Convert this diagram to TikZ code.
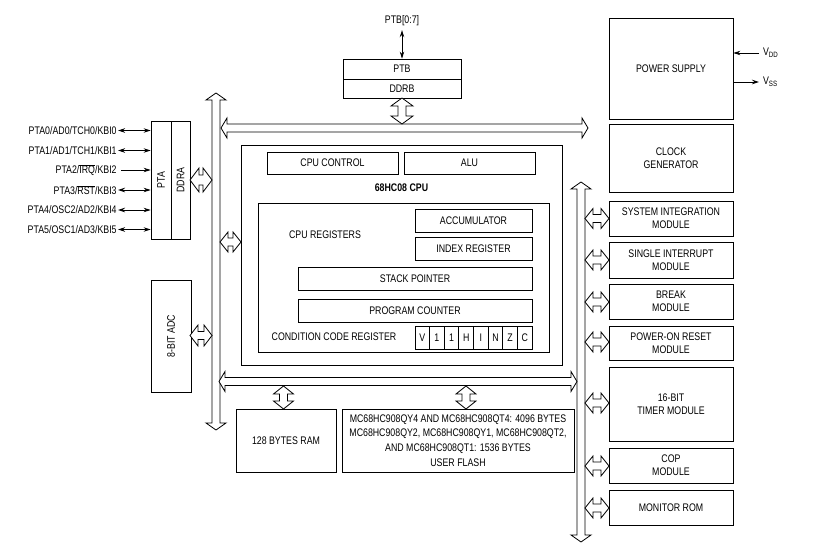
\documentclass[tikz,border=0pt]{standalone}
\usepackage{fontspec}
\setmainfont{Liberation Sans}[FakeStretch=0.8]
\usepackage{graphicx}
\usetikzlibrary{arrows.meta}

% hollow double arrows: horizontal {x left}{x right}{y}{shaft half}{head half}{head length}
\newcommand{\hollowH}[6]{%
  \draw[busline] (#1,#3) -- (#1+#6,#3-#5) -- (#1+#6,#3-#4) -- (#2-#6,#3-#4) -- (#2-#6,#3-#5)
    -- (#2,#3) -- (#2-#6,#3+#5) -- (#2-#6,#3+#4) -- (#1+#6,#3+#4) -- (#1+#6,#3+#5) -- cycle;}
% vertical {x}{y top}{y bottom}{shaft half}{head half}{head length}
\newcommand{\hollowV}[6]{%
  \draw[busline] (#1,#2) -- (#1+#5,#2+#6) -- (#1+#4,#2+#6) -- (#1+#4,#3-#6) -- (#1+#5,#3-#6)
    -- (#1,#3) -- (#1-#5,#3-#6) -- (#1-#4,#3-#6) -- (#1-#4,#2+#6) -- (#1-#5,#2+#6) -- cycle;}

\begin{document}
\fontsize{11}{12.7}\selectfont
\begin{tikzpicture}[x=1pt,y=-1pt,line width=0.8pt,
  blk/.style={draw, inner sep=0pt, align=center},
  busline/.style={draw, fill=white, line join=miter},
  pinarrow/.style={{Stealth[length=7pt,width=4.5pt]}-{Stealth[length=7pt,width=4.5pt]}},
  inarrow/.style={-{Stealth[length=7pt,width=4.5pt]}}]
  \useasboundingbox (0,0) rectangle (820,551);

  % Buses
  \hollowV{216}{93}{430}{4}{10}{7}
  \hollowV{581}{182}{542}{4}{10}{7}
  \hollowH{221}{588}{128}{4}{10}{6}
  \hollowH{219}{577}{381.5}{4}{10}{6}

  % Port B
  \node[blk, minimum width=118pt, minimum height=20pt] (ptb) at (402,69) {PTB};
  \node[blk, minimum width=118pt, minimum height=19pt] (ddrb) at (402,88.5) {DDRB};
  \node (ptbpins) at (402,21) {PTB[0:7]};
  \draw[pinarrow] (ptbpins) -- (ptb);
  \hollowV{402}{98}{124}{4}{11}{8}

  % Port A
  \node[blk, minimum width=20pt, minimum height=118pt] (pta) at (161,180) {\rotatebox{90}{PTA}};
  \node[blk, minimum width=19pt, minimum height=118pt] (ddra) at (180.5,180) {\rotatebox{90}{DDRA}};
  \foreach \y/\txt [count=\i from 0] in {130.5/{PTA0/AD0/TCH0/KBI0}, 150.5/{PTA1/AD1/TCH1/KBI1},
      170/{PTA2/$\overline{\mbox{IRQ}}$/KBI2}, 190/{PTA3/$\overline{\mbox{RST}}$/KBI3},
      210/{PTA4/OSC2/AD2/KBI4}, 229.5/{PTA5/OSC1/AD3/KBI5}}
    \node[anchor=east, inner sep=1pt] (pin\i) at (118,\y) {\txt};
  \foreach \i in {0,1,3,4,5}
    \draw[pinarrow] (pin\i.east) -- (pin\i.east -| pta.west);
  \draw[inarrow] ([xshift=3pt]pin2.east) -- (pin2.east -| pta.west);
  \hollowH{190}{212}{180}{5}{12}{9}

  % ADC
  \node[blk, minimum width=40pt, minimum height=112pt] (adc) at (171,336) {\rotatebox{90}{8-BIT ADC}};
  \hollowH{190}{212}{335.5}{4}{10.5}{8}

  % CPU
  \node[blk, minimum width=321pt, minimum height=220pt] (cpu) at (401.5,255) {};
  \hollowH{220}{241}{242}{4}{10}{8}
  \node[blk, minimum width=131pt, minimum height=22pt] (ctl) at (332.5,163) {CPU CONTROL};
  \node[blk, minimum width=131pt, minimum height=22pt] (alu) at (469.5,163) {ALU};
  \node[font=\bfseries] (cpulbl) at (401.5,188) {68HC08 CPU};

  % CPU registers
  \node[blk, minimum width=291pt, minimum height=149pt] (regs) at (403.5,277.5) {};
  \node (reglbl) at (325,235) {CPU REGISTERS};
  \node[blk, minimum width=117pt, minimum height=23pt] (acc) at (473.5,220.5) {ACCUMULATOR};
  \node[blk, minimum width=117pt, minimum height=23pt] (idx) at (473.5,248.5) {INDEX REGISTER};
  \node[blk, minimum width=234pt, minimum height=23pt] (sp) at (415,278.5) {STACK POINTER};
  \node[blk, minimum width=234pt, minimum height=23pt] (pc) at (415,310.5) {PROGRAM COUNTER};
  \node (ccrlbl) at (334,337) {CONDITION CODE REGISTER};
  \foreach \b [count=\i] in {V,1,1,H,I,N,Z,C}
    \node[blk, minimum width=14.625pt, minimum height=23pt] (ccr\i) at (415+14.625*\i-7.3125,337.5) {\b};

  % Memory
  \node[blk, minimum width=100pt, minimum height=63pt] (ram) at (286,440.5) {128 BYTES RAM};
  \node[blk, minimum width=232pt, minimum height=63pt] (flash) at (458,440.5)
    {MC68HC908QY4 AND MC68HC908QT4: 4096 BYTES\\[2pt]
     MC68HC908QY2, MC68HC908QY1, MC68HC908QT2,\\[2pt]
     AND MC68HC908QT1: 1536 BYTES\\[2pt] USER FLASH};
  \hollowV{283.5}{386}{409}{4}{10}{8}
  \hollowV{466}{386}{409}{4}{10}{8}

  % Power supply
  \node[blk, minimum width=124pt, minimum height=101pt] (ps) at (671,68.5) {POWER SUPPLY};
  \node[anchor=west] (vdd) at (759,53) {V\textsubscript{DD}};
  \node[anchor=west] (vss) at (759,82) {V\textsubscript{SS}};
  \draw[inarrow] (vdd.west) -- (vdd.west -| ps.east);
  \draw[inarrow] (vss.west -| ps.east) -- (vss.west);

  % Modules
  \foreach \nm/\y/\h/\txt in {clk/158/68/{CLOCK\\GENERATOR},
      sim/218.5/35/{SYSTEM INTEGRATION\\MODULE}, sint/260/36/{SINGLE INTERRUPT\\MODULE},
      brk/301.5/35/{BREAK\\MODULE}, por/343/34/{POWER-ON RESET\\MODULE},
      tim/404/74/{16-BIT\\TIMER MODULE}, cop/465.5/35/{COP\\MODULE}, mon/507.5/35/{MONITOR ROM}}
    \node[blk, minimum width=124pt, minimum height=\h] (\nm) at (671,\y) {\txt};
  \foreach \y in {218.5,260,302,342,403,466,508}
    {\hollowH{585}{609}{\y}{4}{10}{8}}
\end{tikzpicture}
\end{document}
